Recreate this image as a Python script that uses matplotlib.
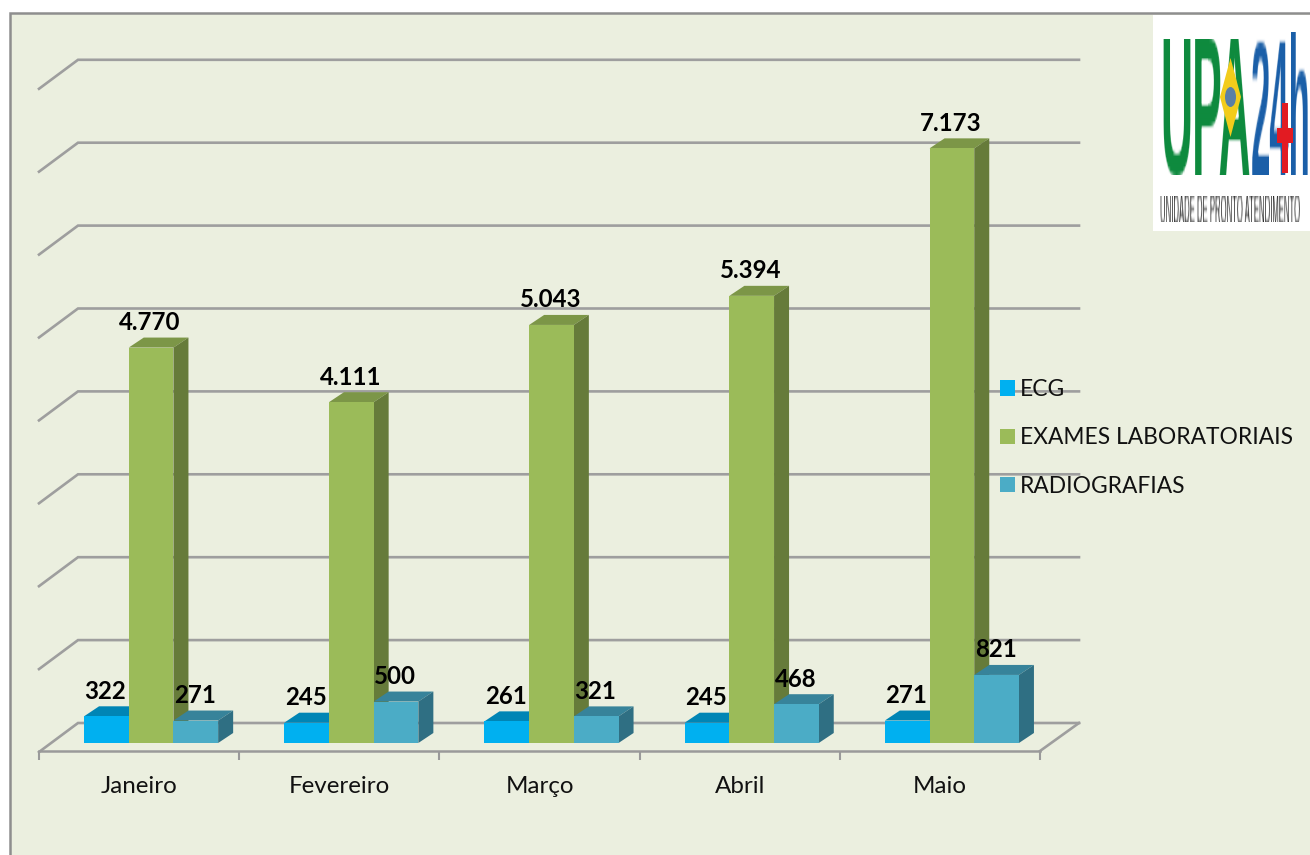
import numpy as np
import matplotlib
matplotlib.use("Agg")
import matplotlib.pyplot as plt
from matplotlib.patches import Rectangle, Polygon, Ellipse

months = ["Janeiro", "Fevereiro", "Março", "Abril", "Maio"]
series_names = ["ECG", "EXAMES LABORATORIAIS", "RADIOGRAFIAS"]
ecg = [322, 245, 261, 245, 271]
exames = [4770, 4111, 5043, 5394, 7173]
radiografias = [271, 500, 321, 468, 821]
grid_values = [0, 1000, 2000, 3000, 4000, 5000, 6000, 7000, 8000]

W, H = 1310, 855
plt.rcParams["font.family"] = ["Lato", "DejaVu Sans"]
fig = plt.figure(figsize=(W / 100, H / 100), dpi=100, facecolor="white")

def fx(px): return px / W
def fy(py): return 1 - py / H

# chart area background
fig.patches.append(Rectangle((fx(10), fy(870)), fx(1330) - fx(10), fy(13) - fy(870),
                             transform=fig.transFigure, facecolor="#EBEFDF",
                             edgecolor="#8E8E8E", linewidth=1.8, zorder=-5))

# plot axes: px-to-data scale is set by the axes rectangle and limits
L, R, B, T = 39, 1040, 751, 20
PX_PER_UNIT = 0.0829
PX_PER_CAT = (R - L) / 5
ax = fig.add_axes([fx(L), fy(B), fx(R) - fx(L), fy(T) - fy(B)])
ax.patch.set_alpha(0)
ax.set_xlim(-0.5, 4.5)
ax.set_ylim(-8 / PX_PER_UNIT, (743 - T) / PX_PER_UNIT)
for s in ["top", "left", "right"]:
    ax.spines[s].set_visible(False)
ax.spines["bottom"].set_color("#9A9A9A")
ax.spines["bottom"].set_linewidth(1.8)
ax.set_yticks([])
ax.set_xticks(range(len(months)))
ax.set_xticklabels(months, fontsize=17.4, color="#111111")
ax.tick_params(axis="x", which="major", length=0, pad=18)
ax.set_xticks(np.arange(-0.5, 5, 1), minor=True)
ax.tick_params(axis="x", which="minor", length=6.5, width=1.5, color="#9A9A9A")

def dx(px): return px / PX_PER_CAT
def dy(px): return px / PX_PER_UNIT

# back wall gridlines with the floor diagonal
for v in grid_values:
    base = v + dy(20)
    ax.plot([-0.5, -0.5 + dx(39), 4.5 + dx(39)],
            [base - dy(29), base, base],
            color="#9E9E9E", lw=1.9, clip_on=False, zorder=1, solid_joinstyle="miter")
# right edge of the floor
floor = grid_values[0] + dy(20)
ax.plot([4.5 + dx(39), 4.5], [floor, floor - dy(28)], color="#9E9E9E", lw=1.9,
        clip_on=False, zorder=1)

# bars
bar_w = dx(44.7)
depth_x, depth_y = dx(15), dy(10)
group_shift = dx(12)
face = ["#00B0F0", "#9BBB59", "#4BACC6"]
top_c = ["#0085B5", "#7C9647", "#37839A"]
side_c = ["#00739D", "#667B3A", "#2F6F83"]
all_series = [ecg, exames, radiografias]
x = np.arange(len(months))
handles = []
for k, values in enumerate(all_series):
    z = 3 + k
    pos = x + group_shift + (k - 1) * bar_w
    bars = ax.bar(pos, values, width=bar_w, color=face[k], zorder=z + 0.2,
                  label=series_names[k])
    handles.append(bars[0])
    for p, v in zip(pos, values):
        l, r = p - bar_w / 2, p + bar_w / 2
        ax.add_patch(Polygon([(l, v), (r, v), (r + depth_x, v + depth_y), (l + depth_x, v + depth_y)],
                             closed=True, facecolor=top_c[k], edgecolor="none", zorder=z + 0.1))
        ax.add_patch(Polygon([(r, 0), (r + depth_x, depth_y), (r + depth_x, v + depth_y), (r, v)],
                             closed=True, facecolor=side_c[k], edgecolor="none", zorder=z + 0.1))

# value labels
for k, values in enumerate(all_series):
    pos = x + group_shift + (k - 1) * bar_w
    for p, v in zip(pos, values):
        ax.text(p - dx(1), v + dy(25), f"{v:,}".replace(",", "."), ha="center", va="center",
                fontsize=17.3, fontweight="bold", color="black", zorder=10, clip_on=False)

# legend
leg = ax.legend(handles, series_names, loc="upper left", frameon=False, fontsize=16.4,
                bbox_to_anchor=(fx(1000), fy(379)), bbox_transform=fig.transFigure,
                handlelength=0.66, handleheight=0.66, handletextpad=0.22,
                labelspacing=1.2, borderpad=0, borderaxespad=0)
leg.set_zorder(12)
for t in leg.get_texts():
    t.set_color("#111111")

# logo
def stretch(sx, sy):
    def f(img, dpi):
        h, w = img.shape[:2]
        nh, nw = max(1, int(round(h * sy))), max(1, int(round(w * sx)))
        yy = np.linspace(0, h - 1, nh)
        xx = np.linspace(0, w - 1, nw)
        y0 = np.floor(yy).astype(int); y1 = np.minimum(y0 + 1, h - 1); wy = (yy - y0)[:, None, None]
        x0 = np.floor(xx).astype(int); x1 = np.minimum(x0 + 1, w - 1); wx = (xx - x0)[None, :, None]
        a = img[y0][:, x0] * (1 - wx) + img[y0][:, x1] * wx
        b = img[y1][:, x0] * (1 - wx) + img[y1][:, x1] * wx
        return a * (1 - wy) + b * wy, 0, 0
    return f

fig.patches.append(Rectangle((fx(1153), fy(231)), fx(1320) - fx(1153), fy(15) - fy(231),
                             transform=fig.transFigure, facecolor="white", edgecolor="none", zorder=20))
t1 = fig.text(fx(1160), fy(175), "UPA", color="#0E8A3E", fontsize=32, fontweight="bold",
              family="Liberation Sans", ha="left", va="baseline", zorder=21)
t1.set_agg_filter(stretch(1.0, 4.4))
t2 = fig.text(fx(1251), fy(175), "24h", color="#1B5FA8", fontsize=25, fontweight="bold",
              family="Liberation Sans", ha="left", va="baseline", zorder=21)
t2.set_agg_filter(stretch(1.0, 5.5))
t3 = fig.text(fx(1160), fy(222), "UNIDADE DE PRONTO ATENDIMENTO", color="#222222", fontsize=5.6,
              family=["Liberation Sans Narrow", "Liberation Sans"], ha="left", va="baseline", zorder=21)
t3.set_agg_filter(stretch(1.0, 5.1))
fig.patches.append(Polygon([(fx(1230.5), fy(58)), (fx(1241), fy(97)), (fx(1230.5), fy(137)), (fx(1220), fy(97))],
                           closed=True, transform=fig.transFigure, facecolor="#F2CC1B", edgecolor="none", zorder=22))
fig.patches.append(Ellipse((fx(1230.5), fy(97)), fx(11), 20 / H,
                           transform=fig.transFigure, facecolor="#5A7FA6", edgecolor="none", zorder=23))
fig.patches.append(Rectangle((fx(1282), fy(173)), fx(1288) - fx(1282), fy(103) - fy(173),
                             transform=fig.transFigure, facecolor="#E21B22", edgecolor="none", zorder=23))
fig.patches.append(Rectangle((fx(1277), fy(143)), fx(1293) - fx(1277), fy(128) - fy(143),
                             transform=fig.transFigure, facecolor="#E21B22", edgecolor="none", zorder=23))

fig.savefig("out.png", dpi=100, facecolor=fig.get_facecolor())
